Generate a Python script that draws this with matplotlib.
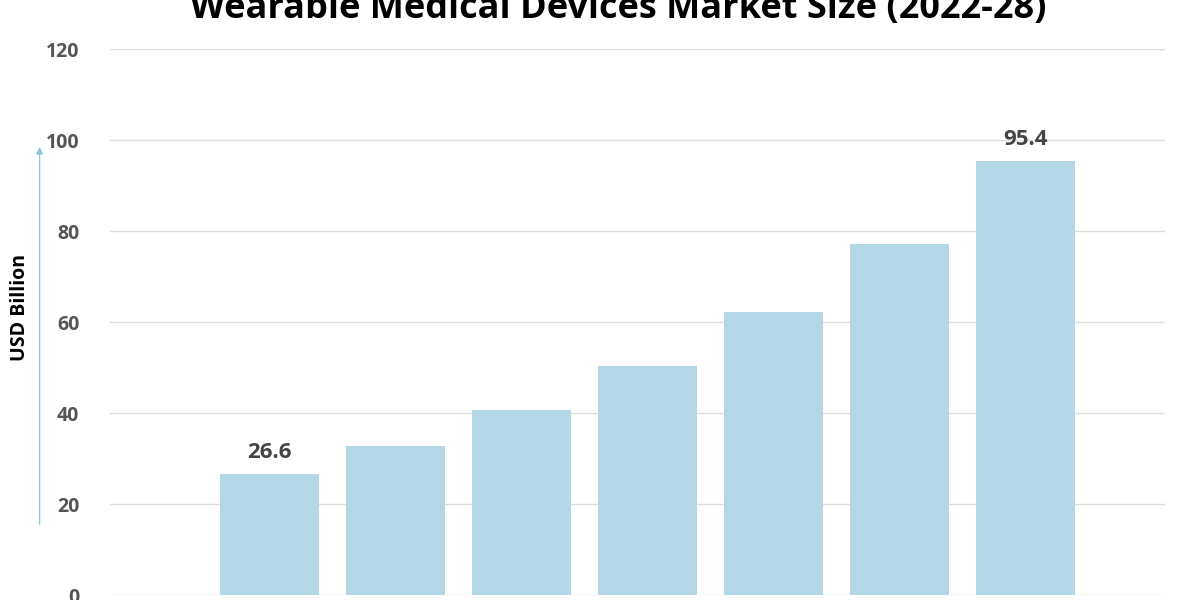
import matplotlib.pyplot as plt

years = ["2022", "2023", "2024", "2025", "2026", "2027", "2028"]
values = [26.6, 32.7, 40.7, 50.3, 62.2, 77.1, 95.4]
yticks = [0, 20, 40, 60, 80, 100, 120]
labelled = {0: "26.6", 6: "95.4"}

plt.rcParams["font.family"] = "Open Sans"
fig = plt.figure(figsize=(12, 6), dpi=100)
ax = fig.add_axes([0.0917, 0.0083, 0.879, 0.91])

x = list(range(len(years)))
ax.bar(x, values, width=0.786, color="#b4d7e6", zorder=2)
for i, txt in labelled.items():
    ax.text(i, values[i] + 2.5, txt, ha="center", va="bottom",
            fontsize=16, fontweight="bold", color="#444444")

ax.set_xlim(-1.266, 7.107)
ax.set_ylim(0, 120)
ax.set_yticks(yticks)
ax.set_xticks([])
ax.grid(axis="y", color="#dddddd", linewidth=1, zorder=0)
ax.tick_params(axis="y", length=0, pad=22, labelsize=14, labelcolor="#555555")
for lab in ax.get_yticklabels():
    lab.set_fontweight("bold")
for s in ax.spines.values():
    s.set_visible(False)

fig.text(0.017, 0.488, "USD Billion", rotation=90, ha="center", va="center",
         fontsize=14, fontweight="bold", color="black")
fig.patches.append(plt.matplotlib.patches.FancyArrowPatch(
    (0.033, 0.122), (0.033, 0.76), transform=fig.transFigure,
    arrowstyle="-|>", mutation_scale=10, color="#8fc6dc", linewidth=1))

fig.text(0.515, 0.985, "Wearable Medical Devices Market Size (2022-28)",
         ha="center", va="center", fontsize=26, fontweight="bold", color="black")

fig.savefig("out.png", dpi=100)
